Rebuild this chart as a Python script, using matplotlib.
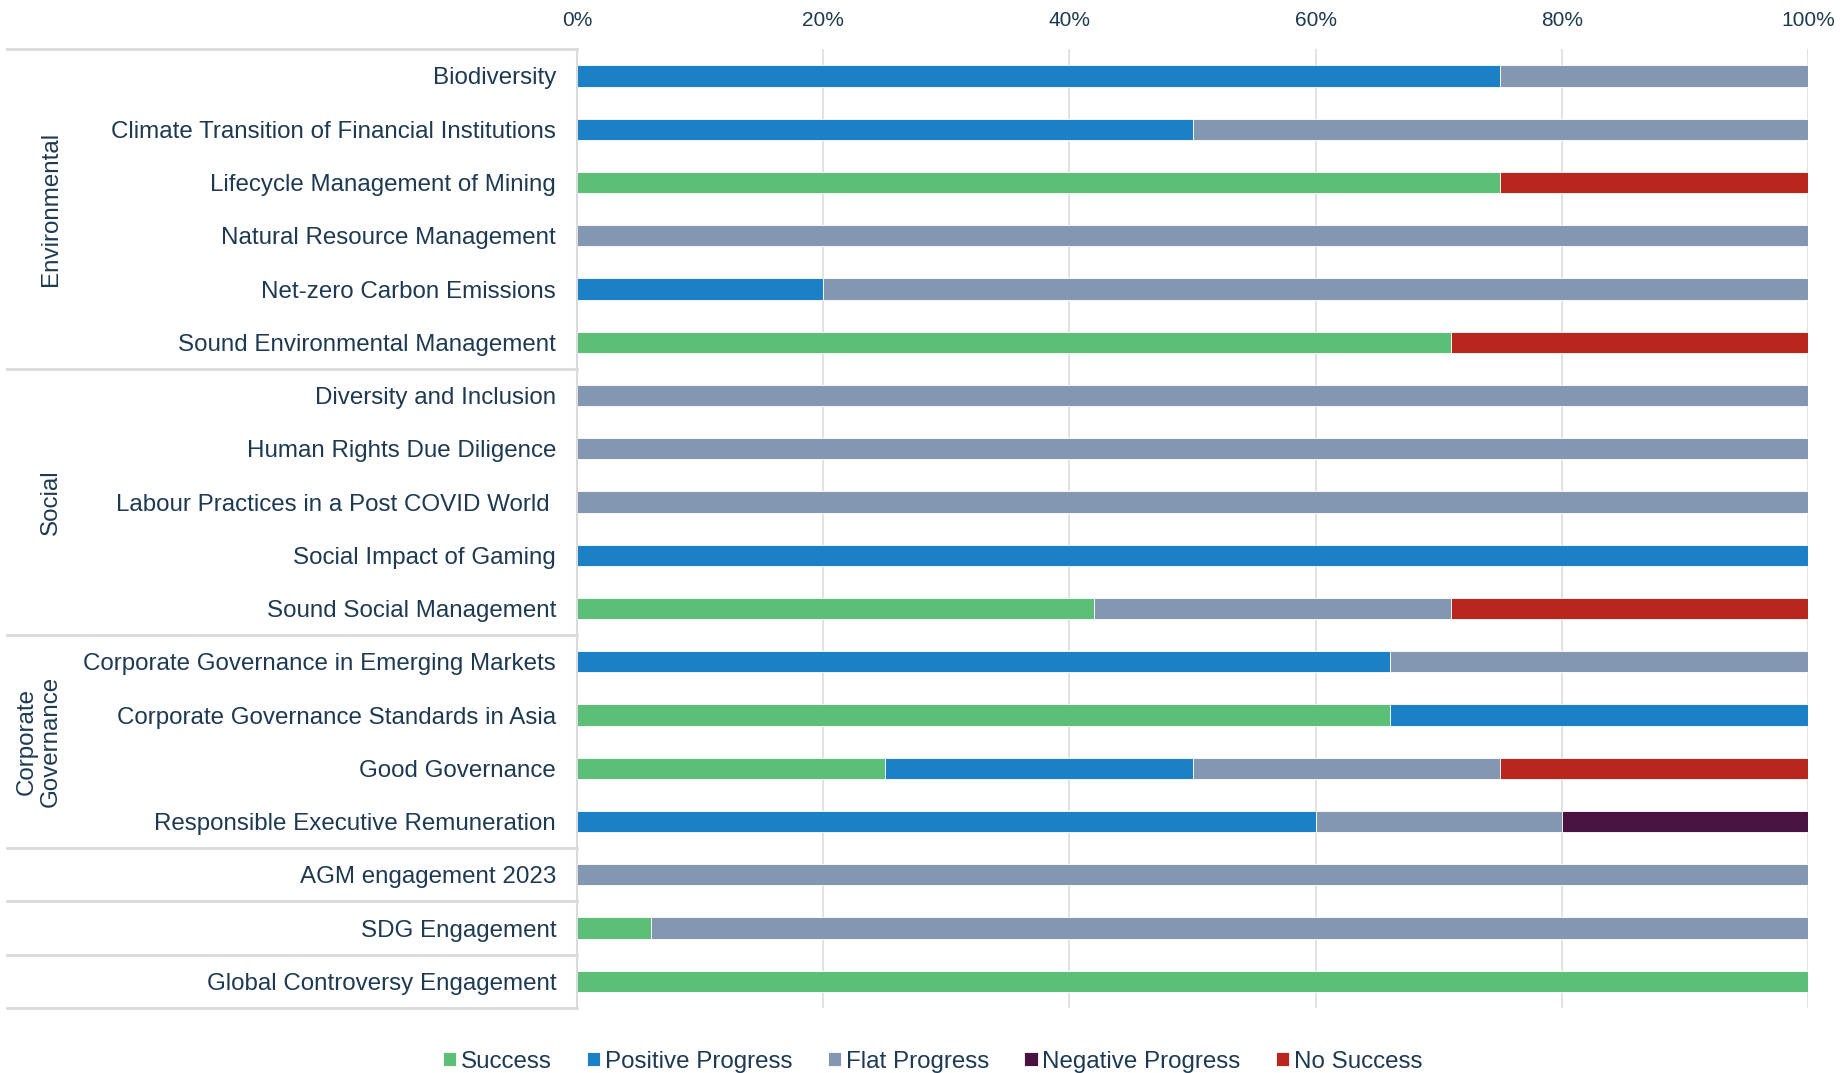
import matplotlib.pyplot as plt
import matplotlib.transforms as mtransforms
import numpy as np

plt.rcParams['font.family'] = ['Liberation Sans', 'DejaVu Sans']

themes = ['Biodiversity', 'Climate Transition of Financial Institutions',
          'Lifecycle Management of Mining', 'Natural Resource Management',
          'Net-zero Carbon Emissions', 'Sound Environmental Management',
          'Diversity and Inclusion', 'Human Rights Due Diligence',
          'Labour Practices in a Post COVID World ', 'Social Impact of Gaming',
          'Sound Social Management', 'Corporate Governance in Emerging Markets',
          'Corporate Governance Standards in Asia', 'Good Governance',
          'Responsible Executive Remuneration', 'AGM engagement 2023',
          'SDG Engagement', 'Global Controversy Engagement']

success = [0, 0, 75, 0, 0, 71, 0, 0, 0, 0, 42, 0, 66, 25, 0, 0, 6, 100]
positive = [75, 50, 0, 0, 20, 0, 0, 0, 0, 100, 0, 66, 34, 25, 60, 0, 0, 0]
flat = [25, 50, 0, 100, 80, 0, 100, 100, 100, 0, 29, 34, 0, 25, 20, 100, 94, 0]
negative = [0, 0, 0, 0, 0, 0, 0, 0, 0, 0, 0, 0, 0, 0, 20, 0, 0, 0]
no_success = [0, 0, 25, 0, 0, 29, 0, 0, 0, 0, 29, 0, 0, 25, 0, 0, 0, 0]

series_names = ['Success', 'Positive Progress', 'Flat Progress', 'Negative Progress', 'No Success']
colors = ['#5BBF77', '#1C80C6', '#8497B0', '#4A1240', '#B8261D']

# group label, first row, last row, x position (axes fraction)
groups = [('Environmental', 0, 5, -0.427), ('Social', 6, 10, -0.427),
          ('Corporate\nGovernance', 11, 14, -0.437)]
separators = [-0.5, 5.5, 10.5, 14.5, 15.5, 16.5, 17.5]

text_col = '#1E3A52'
grid_col = '#DADADA'

fig = plt.figure(figsize=(18.47, 10.73), dpi=100)
ax = fig.add_axes([0.3124, 0.0606, 0.979 - 0.3124, 0.954 - 0.0606])

y = np.arange(len(themes))
left = np.zeros(len(themes))
for name, vals, c in zip(series_names, [success, positive, flat, negative, no_success], colors):
    vals = np.array(vals, dtype=float)
    ax.barh(y, vals, left=left, height=0.4, color=c, label=name,
            edgecolor='#ffffff', linewidth=0.6)
    left += vals

ax.set_xlim(0, 100)
ax.set_ylim(len(themes) - 0.5, -0.5)
ax.set_xticks(np.arange(0, 101, 20))
ax.set_xticklabels([f'{v}%' for v in range(0, 101, 20)])
ax.xaxis.tick_top()
ax.tick_params(axis='x', length=0, pad=14, labelsize=15, colors=text_col)
ax.set_yticks(y)
ax.set_yticklabels(themes)
ax.tick_params(axis='y', length=0, pad=15, labelsize=17.4, colors=text_col)
ax.grid(axis='x', color=grid_col, linewidth=1.1)
ax.set_axisbelow(True)
for s in ['top', 'right', 'bottom']:
    ax.spines[s].set_visible(False)
ax.spines['left'].set_color(grid_col)
ax.spines['left'].set_linewidth(1.5)

trans = mtransforms.blended_transform_factory(ax.transAxes, ax.transData)
for sy in separators:
    ax.plot([-0.463, 0], [sy, sy], color=grid_col, linewidth=2, transform=trans, clip_on=False)
for label, a, b, gx in groups:
    ax.text(gx, (a + b) / 2, label, rotation=90, ha='center', va='center',
            fontsize=17.4, color=text_col, transform=trans, linespacing=1.15)

leg = fig.legend(loc='lower center', bbox_to_anchor=(0.505, -0.02), ncol=5, frameon=False,
                 fontsize=17.4, handlelength=0.55, handleheight=0.55, handletextpad=0.2,
                 columnspacing=1.45)
for t in leg.get_texts():
    t.set_color(text_col)

fig.savefig('out.png', dpi=100)
